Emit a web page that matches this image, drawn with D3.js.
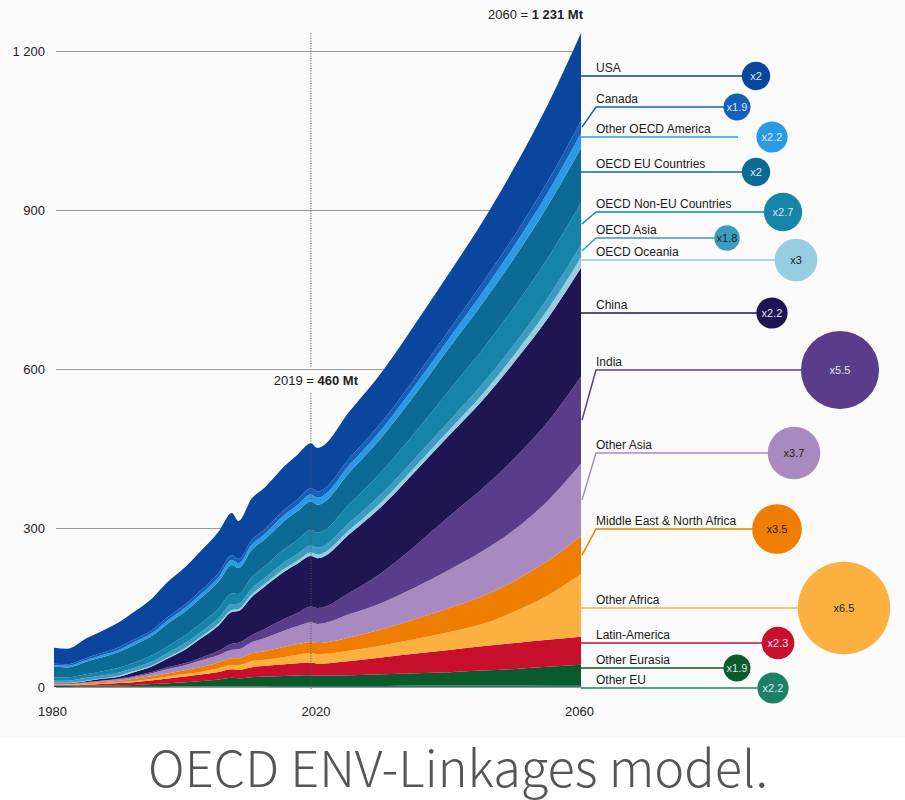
<!DOCTYPE html>
<html>
<head>
<meta charset="utf-8">
<script src="https://cdn.jsdelivr.net/npm/d3@7"></script>
<style>
body { margin: 0; background: #fff; }
svg { display: block; font-family: "Liberation Sans", Arial, sans-serif; }
</style>
</head>
<body>
<div id="chart"></div>
<script>
// Years: history to 2019/2020, then projection every 5 years
var years = [1980, 1982, 1985, 1987, 1990, 1992, 1995, 1997, 2000, 2002, 2005, 2007, 2008, 2010,
             2012, 2015, 2017, 2019, 2020, 2025, 2030, 2035, 2040, 2045, 2050, 2055, 2060];

// Plastic use by region, Mt
var usa          = [30, 29, 37, 41, 47, 52, 60, 66, 70, 74, 78, 80, 72, 78, 79, 82, 84, 85, 82, 88, 94, 101, 107, 115, 129, 145, 166];
var canada       = [3, 3, 4, 4, 5, 5, 6, 6, 7, 7, 8, 9, 8, 9, 9, 10, 11, 12, 12, 13, 14, 15, 16, 18, 19, 21, 23];
var otherOecdAm  = [3, 3, 3, 4, 4, 5, 5, 6, 7, 7, 8, 9, 9, 10, 10, 11, 12, 13, 13, 14, 15, 17, 18, 21, 23, 25, 28];
var oecdEu       = [20, 19, 24, 26, 30, 33, 37, 42, 45, 48, 51, 54, 49, 52, 51, 53, 54, 54, 53, 60, 65, 72, 80, 87, 93, 99, 104];
var oecdNonEu    = [6, 6, 7, 8, 9, 10, 12, 13, 15, 16, 18, 20, 18, 21, 22, 25, 27, 29, 28, 35, 42, 49, 58, 65, 70, 75, 79];
var oecdAsia     = [4, 4, 5, 5, 6, 6, 7, 8, 9, 9, 10, 11, 10, 11, 11, 12, 12, 13, 13, 14, 15, 16, 17, 19, 20, 22, 23];
var oecdOceania  = [1, 1, 1, 1, 2, 2, 2, 2, 3, 3, 4, 4, 4, 5, 5, 6, 6, 7, 7, 8, 9, 9, 10, 12, 14, 17, 20];
var china        = [1, 1, 2, 3, 4, 7, 11, 16, 26, 35, 48, 60, 60, 72, 80, 89, 93, 95, 94, 111, 126, 141, 153, 166, 182, 195, 205];
var india        = [0.3, 0.3, 0.5, 0.7, 1, 1.5, 2, 3, 4, 5, 8, 11, 12, 13, 17, 22, 25, 30, 30, 41, 58, 79, 101, 118, 135, 149, 165];
var otherAsia    = [1, 1, 1.5, 2, 3, 4, 6, 8, 9, 12, 14, 16, 17, 21, 25, 31, 34, 37, 36, 44, 50, 60, 72, 85, 97, 114, 136];
var mena         = [1, 1, 2, 2.5, 3, 4, 5, 6, 8, 9, 11, 13, 13, 15, 16, 19, 20, 21, 21, 25, 31, 38, 45, 52, 58, 65, 72];
var otherAfrica  = [0.5, 0.5, 1, 1, 1.5, 2, 3, 3.5, 4.5, 5, 7, 8, 9, 11, 12, 14, 16, 18, 18, 20, 23, 28, 34, 42, 60, 84, 118];
var latinAmerica = [1.5, 1.5, 2, 3, 4, 5, 7, 9, 11, 12, 14, 16, 16, 19, 20, 22, 23, 24, 23, 27, 32, 37, 42, 46, 49, 51, 53];
var otherEurasia = [1.5, 1.5, 2, 2.5, 3, 3.5, 5, 6, 8, 10, 13, 16, 15, 17, 18, 19, 20, 20, 19, 20, 22, 23, 25, 28, 31, 34, 38];
var otherEu      = [0.2, 0.2, 0.3, 0.3, 0.4, 0.5, 0.6, 0.7, 0.8, 1, 1.2, 1.4, 1.3, 1.5, 1.6, 1.8, 1.9, 2, 2, 2, 2, 3, 3, 3, 3, 4, 4];

// Stack order, bottom to top
var seriesNames = ["Other EU", "Other Eurasia", "Latin-America", "Other Africa", "Middle East & North Africa",
                   "Other Asia", "India", "China", "OECD Oceania", "OECD Asia", "OECD Non-EU Countries",
                   "OECD EU Countries", "Other OECD America", "Canada", "USA"];
var seriesValues = [otherEu, otherEurasia, latinAmerica, otherAfrica, mena, otherAsia, india, china,
                    oecdOceania, oecdAsia, oecdNonEu, oecdEu, otherOecdAm, canada, usa];
// growth factor 2019 -> 2060
var multipliers = [2.2, 1.9, 2.3, 6.5, 3.5, 3.7, 5.5, 2.2, 3, 1.8, 2.7, 2, 2.2, 1.9, 2];

var yTicks = [0, 300, 600, 900, 1200];
var xTicks = [1980, 2020, 2060];

var colors = ["#1d8264", "#0b5a2b", "#c8102e", "#fbb040", "#ef7d00", "#a98ac0", "#5a3d8a", "#1f1552",
              "#96cde0", "#3c9cbf", "#1584a8", "#0b6b94", "#2b9ae6", "#155fba", "#0b469e"];
var darkText = [false, false, false, true, true, true, false, false, true, true, false, false, false, false, false];

// Annotation layout (labels + bubbles on the right)
var labelLineY = [688, 668, 643, 608, 529, 453, 370, 313, 260, 238, 212, 172, 137, 107, 76];
var bubbleX    = [773, 737, 778, 844, 777, 794, 840, 772, 796, 727, 783, 756, 772, 737, 756];
var lineEndX   = [773, 737, 778, 844, 777, 794, 840, 772, 796, 727, 783, 756, 738, 737, 756];
var bent       = [false, false, false, false, true, true, true, false, false, true, true, false, false, true, false];

function init() {
    var width = 905;
    var height = 800;

    var x = d3.scaleLinear().domain([1980, 2060]).range([54, 581]);
    var y = d3.scaleLinear().domain([0, 1200]).range([687, 51]);
    var r = d3.scaleLinear().domain([0, 1]).range([0, 7.1]);

    var svg = d3.select("#chart")
        .append("svg")
        .attr("width", width)
        .attr("height", height);

    // light backdrop of the chart panel
    svg.append("rect")
        .attr("width", width)
        .attr("height", 738)
        .attr("fill", "#fafafa");

    // Build the table for the stack
    var rows = years.map(function (yr, i) {
        var row = { year: yr };
        seriesNames.forEach(function (name, k) {
            row[name] = seriesValues[k][i];
        });
        return row;
    });

    var stacked = d3.stack().keys(seriesNames)(rows);

    // Gridlines + y labels
    var fmt = d3.formatLocale({ decimal: ".", thousands: " ", grouping: [3], currency: ["", ""] }).format(",");
    var yAxis = svg.append("g")
        .attr("transform", "translate(56,0)")
        .call(d3.axisLeft(y).tickValues(yTicks).tickFormat(fmt).tickSize(-(581 - 56)).tickPadding(11));
    yAxis.select(".domain").remove();
    yAxis.selectAll(".tick line").attr("stroke", "#999").attr("stroke-width", 1.2);
    yAxis.selectAll(".tick text").attr("font-size", 13).attr("fill", "#222")
        .attr("font-family", "Liberation Sans, Arial, sans-serif");

    // Areas
    var area = d3.area()
        .x(function (d) { return x(d.data.year); })
        .y0(function (d) { return y(d[0]); })
        .y1(function (d) { return y(d[1]); })
        .curve(d3.curveMonotoneX);

    svg.append("g")
        .selectAll("path")
        .data(stacked)
        .enter()
        .append("path")
        .attr("d", area)
        .attr("fill", function (d, i) { return colors[i]; });

    // x labels
    var xAxis = svg.append("g")
        .attr("transform", "translate(-2,687)")
        .call(d3.axisBottom(x).tickValues(xTicks).tickFormat(d3.format("d")).tickSize(0).tickPadding(20));
    xAxis.select(".domain").remove();
    xAxis.selectAll(".tick text").attr("font-size", 13).attr("fill", "#222")
        .attr("font-family", "Liberation Sans, Arial, sans-serif");

    // 2019 marker
    var x19 = x(2019);
    var dotted = svg.append("g")
        .attr("stroke", "#555")
        .attr("stroke-width", 1)
        .attr("stroke-dasharray", "1,1.5");
    dotted.append("line").attr("x1", x19).attr("x2", x19).attr("y1", 33).attr("y2", 368);
    dotted.append("line").attr("x1", x19).attr("x2", x19).attr("y1", 393).attr("y2", 690);

    var lab19 = svg.append("text")
        .attr("x", x19 + 5)
        .attr("y", 385)
        .attr("text-anchor", "middle")
        .attr("font-size", 13)
        .attr("fill", "#222");
    lab19.append("tspan").text("2019 = ");
    lab19.append("tspan").attr("font-weight", "bold").text("460 Mt");

    var lab60 = svg.append("text")
        .attr("x", 583)
        .attr("y", 19)
        .attr("text-anchor", "end")
        .attr("font-size", 13)
        .attr("fill", "#222");
    lab60.append("tspan").text("2060 = ");
    lab60.append("tspan").attr("font-weight", "bold").text("1 231 Mt");

    // Leader lines, labels, bubbles
    var edge = x(2060);
    var last = years.length - 1;
    var notes = svg.append("g");

    stacked.forEach(function (s, i) {
        var mid = (y(s[last][0]) + y(s[last][1])) / 2;
        var ly = labelLineY[i];
        var p = bent[i]
            ? "M" + (edge + 1) + "," + mid + "L" + (edge + 15) + "," + ly + "L" + lineEndX[i] + "," + ly
            : "M" + edge + "," + ly + "L" + lineEndX[i] + "," + ly;
        notes.append("path")
            .attr("d", p)
            .attr("fill", "none")
            .attr("stroke", colors[i])
            .attr("stroke-width", 1.5);

        notes.append("text")
            .attr("x", 596)
            .attr("y", ly - 4)
            .attr("font-size", 12)
            .attr("fill", "#1a1a1a")
            .text(seriesNames[i]);
    });

    stacked.forEach(function (s, i) {
        var by = labelLineY[i];
        notes.append("circle")
            .attr("cx", bubbleX[i])
            .attr("cy", by)
            .attr("r", r(multipliers[i]))
            .attr("fill", colors[i]);
        notes.append("text")
            .attr("x", bubbleX[i])
            .attr("y", by + 4)
            .attr("text-anchor", "middle")
            .attr("font-size", 11)
            .attr("fill", darkText[i] ? "#222" : "#dfe5f0")
            .text("x" + multipliers[i]);
    });

    // Caption
    svg.append("text")
        .attr("x", 458)
        .attr("y", 787)
        .attr("text-anchor", "middle")
        .attr("font-family", "Noto Sans CJK JP, Noto Sans, sans-serif")
        .attr("font-weight", 300)
        .attr("font-size", 50)
        .attr("fill", "#555")
        .attr("textLength", 620)
        .attr("lengthAdjust", "spacingAndGlyphs")
        .text("OECD ENV-Linkages model.");
}

window.onload = init;
</script>
</body>
</html>
